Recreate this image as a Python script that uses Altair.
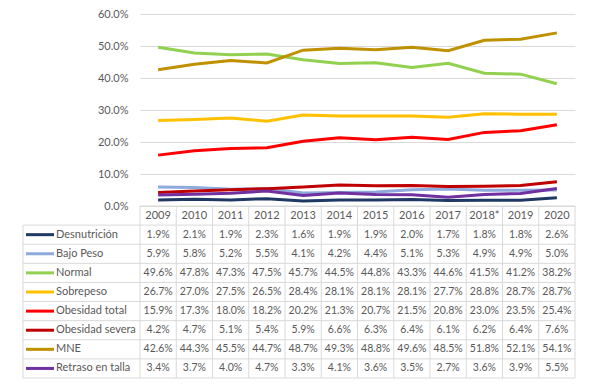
import altair as alt
import pandas as pd

years = ["2009", "2010", "2011", "2012", "2013", "2014", "2015", "2016", "2017", "2018*", "2019", "2020"]
series = ["Desnutrición", "Bajo Peso", "Normal", "Sobrepeso", "Obesidad total",
          "Obesidad severa", "MNE", "Retraso en talla"]
colors = ["#1F3864", "#8EA9DB", "#92D050", "#FFC000", "#FF0000", "#C00000", "#BF9000", "#7030A0"]

desnutricion = [1.9, 2.1, 1.9, 2.3, 1.6, 1.9, 1.9, 2.0, 1.7, 1.8, 1.8, 2.6]
bajo_peso = [5.9, 5.8, 5.2, 5.5, 4.1, 4.2, 4.4, 5.1, 5.3, 4.9, 4.9, 5.0]
normal = [49.6, 47.8, 47.3, 47.5, 45.7, 44.5, 44.8, 43.3, 44.6, 41.5, 41.2, 38.2]
sobrepeso = [26.7, 27.0, 27.5, 26.5, 28.4, 28.1, 28.1, 28.1, 27.7, 28.8, 28.7, 28.7]
obesidad_total = [15.9, 17.3, 18.0, 18.2, 20.2, 21.3, 20.7, 21.5, 20.8, 23.0, 23.5, 25.4]
obesidad_severa = [4.2, 4.7, 5.1, 5.4, 5.9, 6.6, 6.3, 6.4, 6.1, 6.2, 6.4, 7.6]
mne = [42.6, 44.3, 45.5, 44.7, 48.7, 49.3, 48.8, 49.6, 48.5, 51.8, 52.1, 54.1]
retraso = [3.4, 3.7, 4.0, 4.7, 3.3, 4.1, 3.6, 3.5, 2.7, 3.6, 3.9, 5.5]

all_vals = [desnutricion, bajo_peso, normal, sobrepeso, obesidad_total, obesidad_severa, mne, retraso]
y_ticks = [0, 0.1, 0.2, 0.3, 0.4, 0.5, 0.6]

rows = []
for s, vals in zip(series, all_vals):
    for yr, v in zip(years, vals):
        rows.append({"row": s, "year": yr, "value": v / 100})
df = pd.DataFrame(rows)
df_head = pd.DataFrame({"row": ["_h"] * len(years), "year": years})
df_names = pd.DataFrame({"row": series})
df_years = pd.DataFrame({"year": years})

FONT = "Lato"
TXT = "#595959"
GRID = "#D9D9D9"
W, HT, HB = 435, 192, 172
LEFT = -117

color_scale = alt.Scale(domain=series, range=colors)
row_domain = ["_h"] + series
xband = alt.Scale(type="band", domain=years, paddingInner=0, paddingOuter=0)
yband = alt.Scale(type="band", domain=row_domain, paddingInner=0, paddingOuter=0)

top = alt.Chart(df).mark_line(strokeWidth=3).encode(
    x=alt.X("year:N", scale=alt.Scale(type="point", domain=years, padding=0.5), axis=None),
    y=alt.Y("value:Q", scale=alt.Scale(domain=[0, 0.6]),
            axis=alt.Axis(values=y_ticks, format=".1%", grid=True, gridColor=GRID, domain=False,
                          ticks=False, labelPadding=12, labelFontSize=11, labelColor=TXT,
                          labelFont=FONT, title=None)),
    color=alt.Color("row:N", scale=color_scale, legend=None),
).properties(width=W, height=HT)

vals_text = alt.Chart(df).mark_text(font=FONT, fontSize=10.5, color=TXT).encode(
    x=alt.X("year:N", scale=xband, axis=None, bandPosition=0.5),
    y=alt.Y("row:N", scale=yband, axis=None, bandPosition=0.5),
    text=alt.Text("value:Q", format=".1%"),
)
head_text = alt.Chart(df_head).mark_text(font=FONT, fontSize=11, color=TXT).encode(
    x=alt.X("year:N", scale=xband, axis=None, bandPosition=0.5),
    y=alt.Y("row:N", scale=yband, axis=None, bandPosition=0.5),
    text="year:N",
)
names_text = alt.Chart(df_names).mark_text(font=FONT, fontSize=11, color=TXT, align="left").encode(
    x=alt.value(-84),
    y=alt.Y("row:N", scale=yband, axis=None, bandPosition=0.5),
    text="row:N",
)
keys = alt.Chart(df_names).mark_rule(strokeWidth=3).encode(
    x=alt.value(-114), x2=alt.value(-86),
    y=alt.Y("row:N", scale=yband, axis=None, bandPosition=0.5),
    color=alt.Color("row:N", scale=color_scale, legend=None),
)
hlines = alt.Chart(df_names).mark_rule(color=GRID, strokeWidth=1).encode(
    x=alt.value(LEFT), x2=alt.value(W),
    y=alt.Y("row:N", scale=yband, axis=None, bandPosition=0),
)
hbottom = alt.Chart(pd.DataFrame({"row": [series[-1]]})).mark_rule(color=GRID, strokeWidth=1).encode(
    x=alt.value(LEFT), x2=alt.value(W),
    y=alt.Y("row:N", scale=yband, axis=None, bandPosition=1),
)
htop = alt.Chart(pd.DataFrame({"row": ["_h"]})).mark_rule(color=GRID, strokeWidth=1).encode(
    x=alt.value(0), x2=alt.value(W),
    y=alt.Y("row:N", scale=yband, axis=None, bandPosition=0),
)
vlines = alt.Chart(df_years).mark_rule(color=GRID, strokeWidth=1).encode(
    x=alt.X("year:N", scale=xband, axis=None, bandPosition=0),
    y=alt.value(0), y2=alt.value(HB),
)
vright = alt.Chart(df_years.head(1)).mark_rule(color=GRID, strokeWidth=1).encode(
    x=alt.value(W), y=alt.value(0), y2=alt.value(HB),
)
vleft = alt.Chart(pd.DataFrame({"row": [series[0]]})).mark_rule(color=GRID, strokeWidth=1).encode(
    x=alt.value(LEFT),
    y=alt.Y("row:N", scale=yband, axis=None, bandPosition=0),
    y2=alt.value(HB),
)

table = alt.layer(hlines, hbottom, htop, vlines, vright, vleft, keys, names_text, head_text, vals_text).properties(
    width=W, height=HB)

chart = alt.vconcat(top, table, spacing=0, bounds="flush").properties(
    padding={"left": 14, "top": 0, "right": 5, "bottom": 5},
    background="white",
).configure_view(strokeWidth=0)

chart.save("out.html", embed_options={"renderer": "svg", "actions": False})
